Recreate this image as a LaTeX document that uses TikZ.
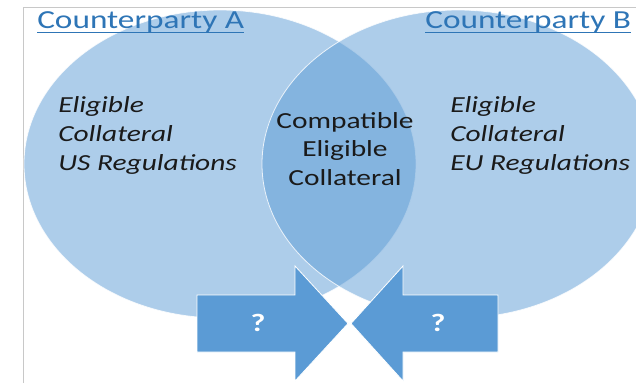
\documentclass[tikz,border=0pt]{standalone}
\usepackage{fontspec}
\setmainfont{Carlito}
\definecolor{venn_blue}{HTML}{5B9BD5}
\definecolor{title_blue}{HTML}{2E75B6}
\definecolor{frame_grey}{HTML}{C8C8C8}
\definecolor{ink}{HTML}{1A1A1A}

\begin{document}
\begin{tikzpicture}[x=1pt,y=-1pt,
    venn/.style={fill=venn_blue, fill opacity=0.5, draw=white, draw opacity=0.8, line width=0.8pt},
    arrowbox/.style={fill=venn_blue, draw=white, line width=0.8pt},
    party/.style={inner sep=0pt, anchor=base west, xscale=1.28, text=title_blue,
        font=\fontsize{26}{30}\selectfont},
    rules/.style={inner sep=0pt, anchor=base west, xscale=1.28, text=ink, align=left,
        font=\fontsize{23}{28.6}\selectfont\itshape},
    common/.style={inner sep=0pt, anchor=base, xscale=1.28, text=ink, align=center,
        font=\fontsize{23}{28.4}\selectfont},
    ask/.style={inner sep=0pt, xscale=1.28, text=white, font=\fontsize{25}{30}\selectfont\bfseries}]
        \useasboundingbox (0,0) rectangle (636,383);
        % Cadre
        \draw[frame_grey, line width=0.8pt] (23,383) -- (23,7) -- (636,7);
        % Ellipses
        \begin{scope}
            \clip (23.5,7.5) rectangle (636,383);
            \draw[venn] (220,164) ellipse [x radius=196, y radius=154];
            \draw[venn] (458,164) ellipse [x radius=196, y radius=154];
        \end{scope}
        % Fleches
        \draw[arrowbox] (197,295) -- (295,295) -- (295,266) -- (348,323.5)
            -- (295,381) -- (295,352) -- (197,352) -- cycle;
        \draw[arrowbox] (498,295) -- (403,295) -- (403,266) -- (351,323.5)
            -- (403,381) -- (403,352) -- (498,352) -- cycle;
        \node[ask] (qa) at (258,322.5) {?};
        \node[ask] (qb) at (438,322.5) {?};
        % Titres
        \node[party] (pa) at (37,28) {Counterparty A};
        \node[party] (pb) at (425,28) {Counterparty B};
        \draw[title_blue, line width=1.5pt] ([yshift=-4.5pt]pa.base west) -- ([yshift=-4.5pt]pa.base east);
        \draw[title_blue, line width=1.5pt] ([yshift=-4.5pt]pb.base west) -- ([yshift=-4.5pt]pb.base east);
        % Textes (ligne de base = derniere ligne)
        \node[rules] (ra) at (58,170) {Eligible\\Collateral\\US Regulations};
        \node[rules] (rb) at (450,170) {Eligible\\Collateral\\EU Regulations};
        \node[common] (cc) at (345,185) {Compatible\\Eligible\\Collateral};
\end{tikzpicture}
\end{document}
